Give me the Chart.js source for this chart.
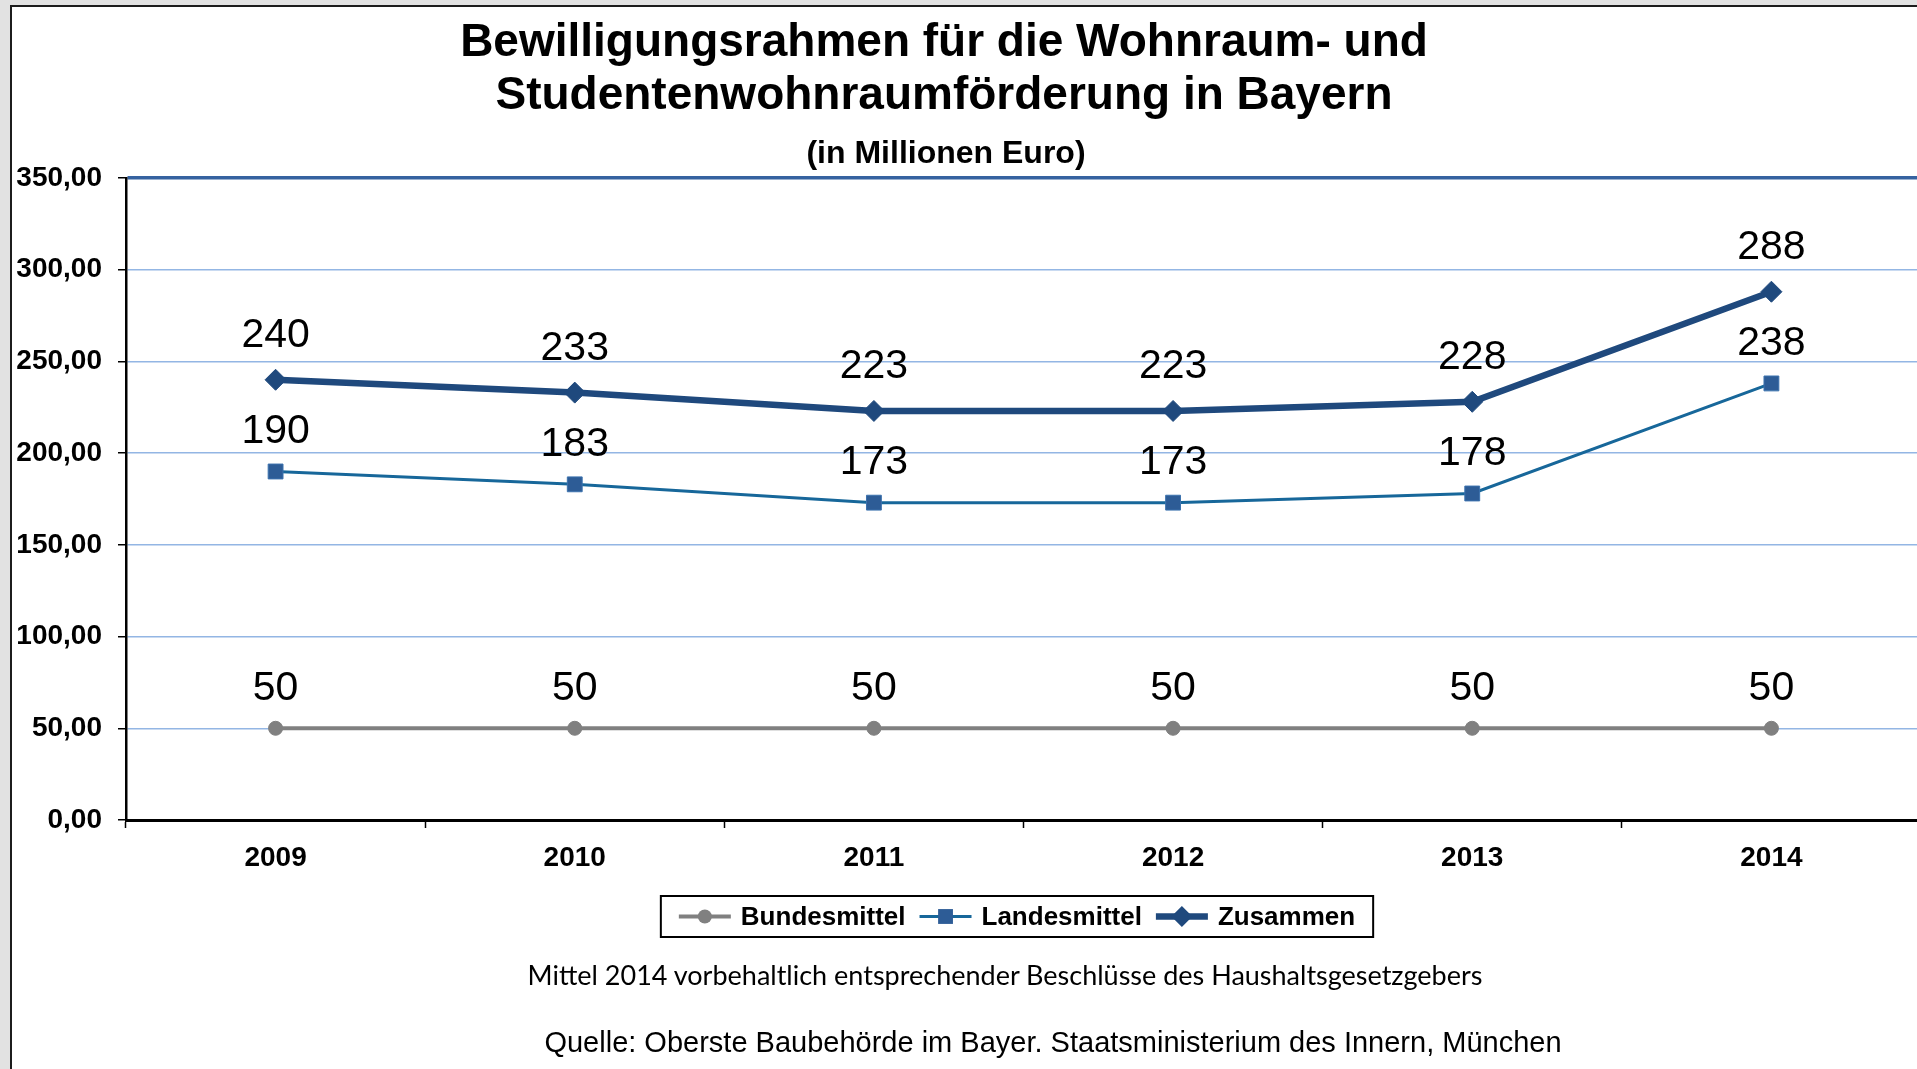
<!DOCTYPE html>
<html lang="de">
<head>
<meta charset="utf-8">
<title>Bewilligungsrahmen Wohnraumförderung Bayern</title>
<script src="https://cdn.jsdelivr.net/npm/chart.js@4.4.1/dist/chart.umd.min.js"></script>
<style>
    html, body {
        margin: 0;
        padding: 0;
        width: 1917px;
        height: 1069px;
        overflow: hidden;
        background: #e2e2e2;
        font-family: "Liberation Sans", Arial, sans-serif;
    }
    #panel {
        position: absolute;
        left: 10px;
        top: 5px;
        width: 1920px;
        height: 1080px;
        background: #fff;
        border-left: 2px solid #1c1c1c;
        border-top: 2px solid #1c1c1c;
    }
    #chart {
        position: absolute;
        left: 0;
        top: 0;
    }
    .txt {
        position: absolute;
        white-space: nowrap;
        transform: translate(-50%, -50%);
        color: #000;
    }
    #title1, #title2 { font-weight: bold; font-size: 46px; }
    #title1 { left: 944px; top: 40px; }
    #title2 { left: 944px; top: 93px; }
    #subtitle { left: 946px; top: 152px; font-weight: bold; font-size: 32px; }
    #note { left: 1005px; top: 974px; font-family: Lato, "Open Sans", sans-serif; font-size: 27px; }
    #source { left: 1053px; top: 1042px; font-size: 29px; }
</style>
</head>
<body>
<div id="panel"></div>
<canvas id="chart" width="1921" height="1069"></canvas>
<div class="txt" id="title1">Bewilligungsrahmen für die Wohnraum- und</div>
<div class="txt" id="title2">Studentenwohnraumförderung in Bayern</div>
<div class="txt" id="subtitle">(in Millionen Euro)</div>
<div class="txt" id="note">Mittel 2014 vorbehaltlich entsprechender Beschlüsse des Haushaltsgesetzgebers</div>
<div class="txt" id="source">Quelle: Oberste Baubehörde im Bayer. Staatsministerium des Innern, München</div>

<script>
// Data (Mio. Euro)
const years = ['2009', '2010', '2011', '2012', '2013', '2014'];
const bundesmittel = [50, 50, 50, 50, 50, 50];
const landesmittel = [190, 183, 173, 173, 178, 238];
const zusammen = [240, 233, 223, 223, 228, 288];

const yTicks = { min: 0, max: 350, step: 50 };

const fontFamily = '"Liberation Sans", Arial, sans-serif';

// value labels above each point
const valueLabels = {
    id: 'valueLabels',
    afterDatasetsDraw(chart) {
        const ctx = chart.ctx;
        ctx.save();
        ctx.font = '41px ' + fontFamily;
        ctx.fillStyle = '#000';
        ctx.textAlign = 'center';
        ctx.textBaseline = 'middle';
        chart.data.datasets.forEach((ds, i) => {
            chart.getDatasetMeta(i).data.forEach((pt, j) => {
                ctx.fillText(String(ds.data[j]), pt.x, pt.y - ds.labelOffset);
            });
        });
        ctx.restore();
    }
};

// Excel style legend with frame, drawn from the datasets
const boxLegend = {
    id: 'boxLegend',
    afterDraw(chart, args, opts) {
        const ctx = chart.ctx;
        const padX = 18, lineLen = 52, gapText = 10, gapItem = 14;
        ctx.save();
        ctx.font = 'bold 26px ' + fontFamily;
        const items = chart.data.datasets.map(ds => ({ ds, w: ctx.measureText(ds.label).width }));
        let total = padX * 2 + gapItem * (items.length - 1);
        items.forEach(it => { total += lineLen + gapText + it.w; });

        const left = opts.centerX - total / 2;
        const top = opts.centerY - opts.height / 2;
        ctx.lineWidth = 2;
        ctx.strokeStyle = '#000';
        ctx.strokeRect(left, top, total, opts.height);

        let x = left + padX;
        const y = opts.centerY;
        items.forEach(it => {
            const ds = it.ds;
            ctx.strokeStyle = ds.borderColor;
            ctx.lineWidth = ds.borderWidth;
            ctx.beginPath();
            ctx.moveTo(x, y);
            ctx.lineTo(x + lineLen, y);
            ctx.stroke();

            const cx = x + lineLen / 2;
            const r = ds.pointRadius;
            ctx.fillStyle = ds.pointBackgroundColor;
            ctx.beginPath();
            if (ds.pointStyle === 'circle') {
                ctx.arc(cx, y, r, 0, Math.PI * 2);
            } else if (ds.pointStyle === 'rect') {
                const s = r * Math.SQRT1_2;
                ctx.rect(cx - s, y - s, s * 2, s * 2);
            } else {
                ctx.moveTo(cx, y - r);
                ctx.lineTo(cx + r, y);
                ctx.lineTo(cx, y + r);
                ctx.lineTo(cx - r, y);
                ctx.closePath();
            }
            ctx.fill();

            ctx.fillStyle = '#000';
            ctx.textAlign = 'left';
            ctx.textBaseline = 'middle';
            ctx.fillText(ds.label, x + lineLen + gapText, y + 1);
            x += lineLen + gapText + it.w + gapItem;
        });
        ctx.restore();
    }
};

const chart = new Chart(document.getElementById('chart'), {
    type: 'line',
    data: {
        labels: years,
        datasets: [
            {
                label: 'Bundesmittel',
                data: bundesmittel,
                borderColor: '#808080',
                borderWidth: 4,
                pointStyle: 'circle',
                pointRadius: 7,
                pointBackgroundColor: '#808080',
                pointBorderColor: '#808080',
                pointBorderWidth: 1,
                labelOffset: 40,
                tension: 0
            },
            {
                label: 'Landesmittel',
                data: landesmittel,
                borderColor: '#17679a',
                borderWidth: 3,
                pointStyle: 'rect',
                pointRadius: 10.5,
                pointBackgroundColor: '#2d5c96',
                pointBorderColor: '#3c72ae',
                pointBorderWidth: 1,
                labelOffset: 40,
                tension: 0
            },
            {
                label: 'Zusammen',
                data: zusammen,
                borderColor: '#1f497d',
                borderWidth: 6.5,
                pointStyle: 'rectRot',
                pointRadius: 10.5,
                pointBackgroundColor: '#1f497d',
                pointBorderColor: '#1f497d',
                pointBorderWidth: 1,
                labelOffset: 44,
                tension: 0
            }
        ]
    },
    options: {
        responsive: false,
        animation: false,
        events: [],
        layout: {
            autoPadding: false,
            padding: { top: 178, right: 0, bottom: 189, left: 0 }
        },
        scales: {
            x: {
                type: 'category',
                offset: true,
                afterFit: scale => { scale.height = 60; },
                grid: {
                    offset: true,
                    drawOnChartArea: false,
                    tickLength: 8,
                    tickColor: '#000',
                    tickWidth: 1.5,
                    color: '#000'
                },
                border: { color: '#000', width: 3 },
                ticks: {
                    color: '#000',
                    padding: 13,
                    font: { family: fontFamily, size: 28, weight: 'bold' }
                }
            },
            y: {
                min: yTicks.min,
                max: yTicks.max,
                afterFit: scale => { scale.width = 126; },
                grid: {
                    color: ctx => ctx.tick && ctx.tick.value === yTicks.max ? '#3562a0' : '#93b6e4',
                    lineWidth: ctx => ctx.tick && ctx.tick.value === yTicks.max ? 3.5 : 1.5,
                    tickColor: '#000',
                    tickLength: 8,
                    tickWidth: 1.5
                },
                border: { color: '#000', width: 2.5 },
                ticks: {
                    stepSize: yTicks.step,
                    color: '#000',
                    padding: 16,
                    font: { family: fontFamily, size: 28, weight: 'bold' },
                    callback: v => v.toFixed(2).replace('.', ',')
                }
            }
        },
        plugins: {
            legend: { display: false },
            tooltip: { enabled: false },
            boxLegend: { centerX: 1017, centerY: 916.5, height: 41 }
        }
    },
    plugins: [valueLabels, boxLegend]
});
</script>
</body>
</html>
